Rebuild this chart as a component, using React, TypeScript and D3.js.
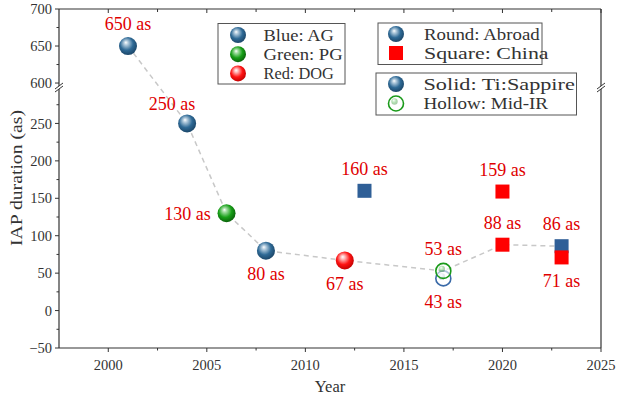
import React from 'react';
import * as d3 from 'd3';

// ---- data ----
const years = [2001, 2004, 2006, 2008, 2012, 2013, 2017, 2017, 2020, 2020, 2023, 2023];
const durations = [650, 250, 130, 80, 67, 160, 53, 43, 88, 159, 86, 71];
const generation = ['AG', 'AG', 'PG', 'AG', 'DOG', 'AG', 'PG', 'AG', 'DOG', 'DOG', 'AG', 'DOG'];
const origin = ['Abroad', 'Abroad', 'Abroad', 'Abroad', 'Abroad', 'China', 'Abroad', 'Abroad', 'China', 'China', 'China', 'China'];
const laser = ['Ti', 'Ti', 'Ti', 'Ti', 'Ti', 'Ti', 'MidIR', 'MidIR', 'Ti', 'Ti', 'Ti', 'Ti'];
const labelPlace = ['top', 'topleft', 'left', 'bottom', 'bottom', 'top', 'top', 'bottom', 'top', 'top', 'top', 'bottom'];

const trendYears = [2001, 2004, 2006, 2008, 2012, 2017, 2020, 2023];
const trendValues = [650, 250, 130, 80, 67, 53, 88, 86];

const xTicks = [2000, 2005, 2010, 2015, 2020, 2025];
const yTicksUpper = [600, 650, 700];
const yTicksLower = [-50, 0, 50, 100, 150, 200, 250];

// ---- layout ----
const W = 620, H = 399;
const left = 59, right = 601, top = 9, bottom = 348;
const breakY = 87.5;

const x = d3.scaleLinear().domain([1997.5, 2025]).range([left, right]);
const yUpper = d3.scaleLinear().domain([596, 700]).range([86, top]);
const yLower = d3.scaleLinear().domain([-50, 296]).range([bottom, 89]);
const y = (v: number) => (v >= 450 ? yUpper(v) : yLower(v));

const colors: Record<string, { base: string; light: string; dark: string }> = {
  AG: { base: '#2f6a96', light: '#b8cfe0', dark: '#1a4466' },
  PG: { base: '#18a018', light: '#a8e0a8', dark: '#0a5e0a' },
  DOG: { base: '#ff1414', light: '#ffc0c0', dark: '#c00000' },
};
const squareColors: Record<string, string> = { AG: '#2f5f97', DOG: '#ff0000', PG: '#18a018' };
const hollowColors: Record<string, string> = { AG: '#3a6aa8', PG: '#1a9a1a', DOG: '#ff0000' };

const labelColor = '#e00000';
const tickFont = '"Liberation Serif", "DejaVu Serif", serif';

function labelOffset(p: string): [number, number] {
  switch (p) {
    case 'top': return [0, -22];
    case 'bottom': return [0, 23];
    case 'left': return [-39, 0];
    case 'topleft': return [-15, -20];
    default: return [0, -22];
  }
}

function Sphere({ cx, cy, r, g }: { cx: number; cy: number; r: number; g: string }) {
  return <circle cx={cx} cy={cy} r={r} fill={`url(#grad-${g})`} />;
}

function Hollow({ cx, cy, g }: { cx: number; cy: number; g: string }) {
  return (
    <g>
      <circle cx={cx} cy={cy} r={7.5} fill="white" fillOpacity={0.6} stroke={hollowColors[g]} strokeWidth={1.6} />
      <circle cx={cx - 1.5} cy={cy - 2} r={3.2} fill={`url(#grad-${g})`} opacity={0.35} />
    </g>
  );
}

export default function App() {
  const line = d3.line<number>()
    .x((_, i) => x(trendYears[i]))
    .y((d) => y(d));

  const xMinor = d3.range(2000, 2025.01, 2.5);
  const yMinorLower = d3.range(-25, 290, 50);
  const yMinorUpper = [625, 675];

  // draw order: circles then squares; within 2017 blue then green; 2023 blue then red
  const order = [0, 1, 2, 3, 4, 5, 7, 6, 8, 9, 10, 11];

  return (
    <svg width={W} height={H} style={{ position: 'absolute', left: 0, top: 0, background: 'white' }}
      fontFamily={tickFont}>
      <defs>
        {Object.keys(colors).map((k) => (
          <radialGradient key={k} id={`grad-${k}`} cx="45%" cy="42%" r="60%" fx="38%" fy="30%">
            <stop offset="0%" stopColor="#ffffff" />
            <stop offset="18%" stopColor={colors[k].light} />
            <stop offset="60%" stopColor={colors[k].base} />
            <stop offset="100%" stopColor={colors[k].dark} />
          </radialGradient>
        ))}
      </defs>
      <rect x={0} y={0} width={W} height={H} fill="white" />

      {/* frame */}
      <line x1={left} x2={right} y1={top} y2={top} stroke="#333" strokeWidth={1.2} />
      <line x1={left} x2={right} y1={bottom} y2={bottom} stroke="#333" strokeWidth={1.2} />
      <line x1={left} x2={left} y1={top} y2={bottom} stroke="#333" strokeWidth={1.2} />
      <line x1={right} x2={right} y1={top} y2={bottom} stroke="#333" strokeWidth={1.2} />

      {/* axis breaks */}
      {[left, right].map((bx) => (
        <g key={bx}>
          <polygon points={`${bx - 4},${breakY + 1.5} ${bx + 4},${breakY - 4.5} ${bx + 4},${breakY - 1.5} ${bx - 4},${breakY + 4.5}`} fill="white" />
          <line x1={bx - 4} y1={breakY + 1.5} x2={bx + 4} y2={breakY - 4.5} stroke="#333" strokeWidth={1} />
          <line x1={bx - 4} y1={breakY + 4.5} x2={bx + 4} y2={breakY - 1.5} stroke="#333" strokeWidth={1} />
        </g>
      ))}

      {/* x ticks */}
      {xMinor.map((t) => {
        const major = Math.abs(t % 5) < 1e-6;
        return (
          <g key={t}>
            <line x1={x(t)} x2={x(t)} y1={bottom} y2={bottom + (major ? 4 : 2.5)} stroke="#333" />
            <line x1={x(t)} x2={x(t)} y1={top} y2={top + (major ? 4 : 3)} stroke="#333" />
          </g>
        );
      })}
      {xTicks.map((t) => (
        <text key={t} x={x(t)} y={370} textAnchor="middle" fontSize={14.5} fill="#333">{t}</text>
      ))}

      {/* y ticks */}
      {[...yTicksUpper, ...yTicksLower].map((t) => (
        <g key={t}>
          <line x1={left - 4} x2={left} y1={y(t)} y2={y(t)} stroke="#333" />
          <text x={left - 7} y={y(t)} dy="0.35em" textAnchor="end" fontSize={14.5} fill="#333">{t < 0 ? '\u221250' : t}</text>
        </g>
      ))}
      {[...yMinorUpper, ...yMinorLower].map((t) => (
        <line key={`m${t}`} x1={left - 2.5} x2={left} y1={y(t)} y2={y(t)} stroke="#333" />
      ))}

      {/* axis titles */}
      <text x={330} y={392} textAnchor="middle" fontSize={16.5} fill="#333">Year</text>
      <text transform={`translate(22,${178}) rotate(-90)`} textAnchor="middle" fontSize={16.5} fill="#333"
        textLength={136} lengthAdjust="spacingAndGlyphs">IAP duration (as)</text>

      {/* trend */}
      <path d={line(trendValues) || ''} fill="none" stroke="#c8c8c8" strokeWidth={1.5} strokeDasharray="5,4" />

      {/* markers */}
      {order.map((i) => {
        const cx = x(years[i]);
        const cy = y(durations[i]);
        if (origin[i] === 'China') {
          return <rect key={i} x={cx - 7} y={cy - 7} width={14} height={14} fill={squareColors[generation[i]]} />;
        }
        if (laser[i] === 'MidIR') return <Hollow key={i} cx={cx} cy={cy} g={generation[i]} />;
        return <Sphere key={i} cx={cx} cy={cy} r={9} g={generation[i]} />;
      })}

      {/* labels */}
      {years.map((yr, i) => {
        const [dx, dy] = labelOffset(labelPlace[i]);
        return (
          <text key={`l${i}`} x={x(yr) + dx} y={y(durations[i]) + dy} dy="0.35em" textAnchor="middle"
            fontSize={18} fill={labelColor} fontFamily='"Liberation Serif", serif'>
            {`${durations[i]} as`}
          </text>
        );
      })}

      {/* legend 1 */}
      <rect x={218} y={23.5} width={127} height={60.5} fill="white" stroke="#555" strokeWidth={1} />
      {[['AG', 'Blue: AG'], ['PG', 'Green: PG'], ['DOG', 'Red: DOG']].map(([g, t], k) => (
        <g key={g}>
          <Sphere cx={238} cy={35 + k * 19.2} r={8} g={g} />
          <text x={263.5} y={35 + k * 19.2} dy="0.35em" fontSize={16.5} fill="#333"
            textLength={t.length * 8.8} lengthAdjust="spacingAndGlyphs">{t}</text>
        </g>
      ))}

      {/* legend 2 */}
      <rect x={378} y={23} width={164} height={41.5} fill="white" stroke="#555" strokeWidth={1} />
      <Sphere cx={396} cy={34} r={8} g="AG" />
      <text x={424} y={34} dy="0.35em" fontSize={16.5} fill="#333" textLength={13 * 8.9} lengthAdjust="spacingAndGlyphs">Round: Abroad</text>
      <rect x={389} y={46} width={14} height={14} fill="#ff0000" />
      <text x={424} y={53} dy="0.35em" fontSize={16.5} fill="#333" textLength={14 * 8.9} lengthAdjust="spacingAndGlyphs">Square: China</text>

      {/* legend 3 */}
      <rect x={376} y={73} width={200.5} height={42} fill="white" stroke="#555" strokeWidth={1} />
      <Sphere cx={396} cy={84} r={8} g="AG" />
      <text x={423.5} y={84} dy="0.35em" fontSize={16.5} fill="#333" textLength={17 * 8.9} lengthAdjust="spacingAndGlyphs">Solid: Ti:Sappire</text>
      <Hollow cx={396} cy={103.5} g="PG" />
      <text x={423.5} y={103.5} dy="0.35em" fontSize={16.5} fill="#333" textLength={14 * 8.9} lengthAdjust="spacingAndGlyphs">Hollow: Mid-IR</text>
    </svg>
  );
}
